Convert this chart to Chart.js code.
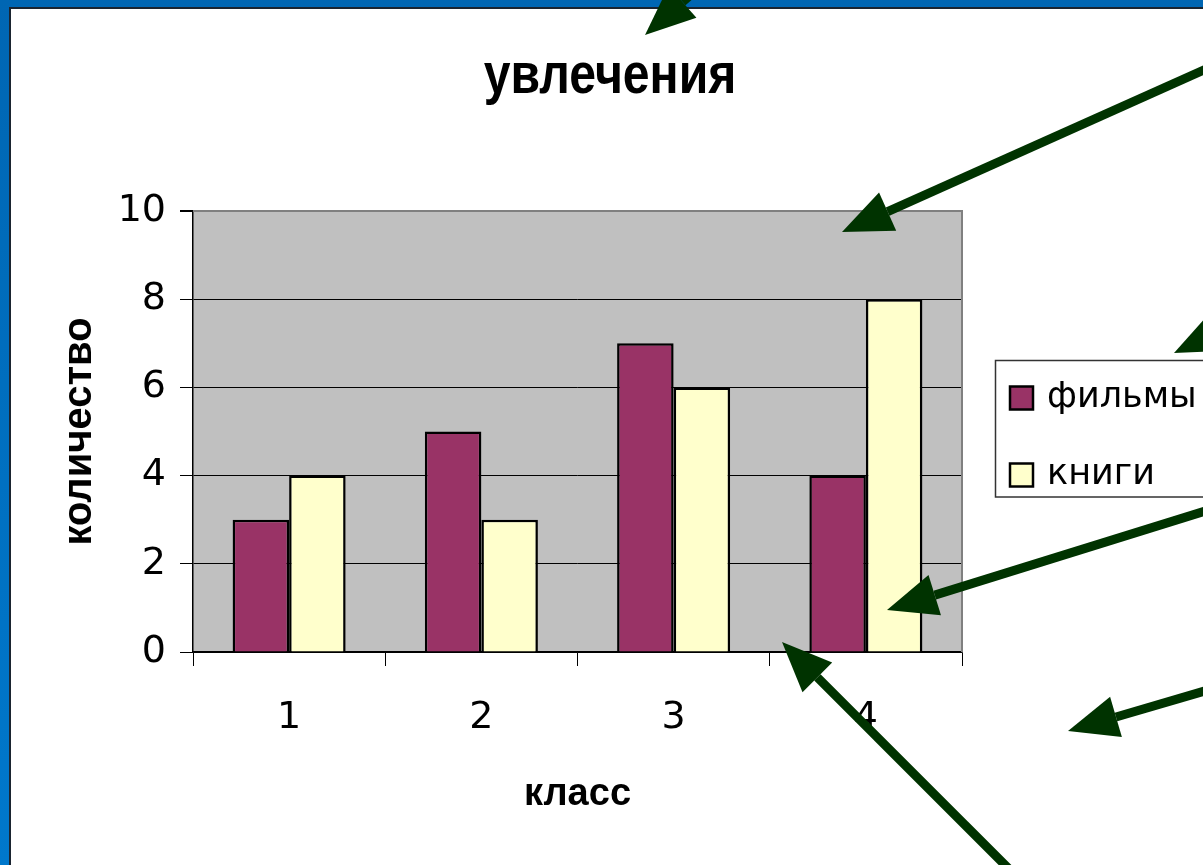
<!DOCTYPE html>
<html>
<head>
<meta charset="utf-8">
<script src="https://cdn.jsdelivr.net/npm/chart.js@4"></script>
<style>
  html, body { margin: 0; padding: 0; overflow: hidden; }
  body { width: 1203px; height: 865px; position: relative; background: linear-gradient(#0066b3, #0078cc); }
  #sheet { position: absolute; left: 9px; top: 7px; right: 0; bottom: 0; background: #fff;
           border-left: 2px solid #1a2430; border-top: 2px solid #1a2430; }
  #chart { position: absolute; left: 0; top: 0; }
</style>
</head>
<body>
<div id="sheet"></div>
<canvas id="chart" width="1203" height="865"></canvas>
<script>
// chart data
const classes = ['1', '2', '3', '4'];
const films = [3, 5, 7, 4];
const books = [4, 3, 6, 8];
const seriesNames = ['фильмы', 'книги'];
const chartTitle = 'увлечения';
const yMax = 10;
const yStep = 2;

// green pointer arrows drawn over the slide: [tailX, tailY, tipX, tipY]
const arrows = [
    [720, -31, 645, 35],
    [1215, 65, 842, 232],
    [1300, 293, 1174, 353],
    [1215, 508, 887, 610],
    [1215, 688, 1068, 731],
    [1010, 870, 782, 642]
];

const PLOT_LEFT = 193, PLOT_TOP = 211, PLOT_RIGHT = 962, PLOT_BOTTOM = 652;

const plotFrame = {
    id: 'plotFrame',
    beforeDraw(chart) {
        const { ctx, chartArea: a } = chart;
        ctx.save();
        ctx.fillStyle = '#c0c0c0';
        ctx.fillRect(a.left, a.top, a.right - a.left, a.bottom - a.top);
        ctx.restore();
    },
    afterDatasetsDraw(chart) {
        const { ctx, chartArea: a } = chart;
        ctx.save();
        ctx.strokeStyle = '#808080';
        ctx.lineWidth = 2;
        ctx.beginPath();
        ctx.moveTo(a.left, a.top);
        ctx.lineTo(a.right, a.top);
        ctx.lineTo(a.right, a.bottom);
        ctx.stroke();
        ctx.restore();
    }
};

// the slide title is a condensed heavy face, so squeeze a bold sans a little
const squeezedTitle = {
    id: 'squeezedTitle',
    afterDraw(chart) {
        const ctx = chart.ctx;
        ctx.save();
        ctx.translate(610, 93);
        ctx.scale(0.83, 1);
        ctx.fillStyle = '#000';
        ctx.font = 'bold 58px "Liberation Sans", Arial';
        ctx.textAlign = 'center';
        ctx.textBaseline = 'alphabetic';
        ctx.fillText(chartTitle, 0, 0);
        ctx.restore();
    }
};

const boxLegend = {
    id: 'boxLegend',
    afterDraw(chart) {
        const ctx = chart.ctx;
        ctx.save();
        ctx.fillStyle = '#fff';
        ctx.strokeStyle = '#333';
        ctx.lineWidth = 1.5;
        ctx.fillRect(995.5, 360.5, 260, 136.5);
        ctx.strokeRect(995.5, 360.5, 260, 136.5);
        const rows = [398, 475];
        chart.data.datasets.forEach((ds, i) => {
            const cy = rows[i];
            ctx.fillStyle = ds.backgroundColor;
            ctx.strokeStyle = '#000';
            ctx.lineWidth = 2.5;
            ctx.fillRect(1010, cy - 11.5, 23, 23);
            ctx.strokeRect(1010, cy - 11.5, 23, 23);
            ctx.fillStyle = '#000';
            ctx.font = '35px "DejaVu Sans"';
            ctx.textBaseline = 'middle';
            ctx.textAlign = 'left';
            ctx.fillText(ds.label, 1047, cy);
        });
        ctx.restore();
    }
};

const pointerArrows = {
    id: 'pointerArrows',
    afterDraw(chart) {
        const ctx = chart.ctx;
        const headLen = 50, headHalf = 21;
        ctx.save();
        ctx.fillStyle = '#003300';
        ctx.strokeStyle = '#003300';
        ctx.lineWidth = 9;
        ctx.lineCap = 'butt';
        arrows.forEach(([tx, ty, px, py]) => {
            const len = Math.hypot(tx - px, ty - py);
            const dx = (tx - px) / len, dy = (ty - py) / len;
            const bx = px + dx * headLen, by = py + dy * headLen;
            ctx.beginPath();
            ctx.moveTo(tx, ty);
            ctx.lineTo(bx, by);
            ctx.stroke();
            ctx.beginPath();
            ctx.moveTo(px, py);
            ctx.lineTo(bx - dy * headHalf, by + dx * headHalf);
            ctx.lineTo(bx + dy * headHalf, by - dx * headHalf);
            ctx.closePath();
            ctx.fill();
        });
        ctx.restore();
    }
};

const ctx = document.getElementById('chart').getContext('2d');
new Chart(ctx, {
    type: 'bar',
    data: {
        labels: classes,
        datasets: [
            { label: seriesNames[0], data: films, backgroundColor: '#993366', borderColor: '#000', borderWidth: 2.5 },
            { label: seriesNames[1], data: books, backgroundColor: '#ffffcc', borderColor: '#000', borderWidth: 2.5 }
        ]
    },
    options: {
        responsive: false,
        devicePixelRatio: 1,
        animation: false,
        layout: { padding: { left: 0, right: 1203 - PLOT_RIGHT, top: PLOT_TOP, bottom: 0 } },
        datasets: { bar: { categoryPercentage: 0.588, barPercentage: 1 } },
        plugins: {
            legend: { display: false },
            tooltip: { enabled: false },
            title: { display: false }
        },
        scales: {
            x: {
                grid: { drawOnChartArea: false, tickLength: 14, tickColor: '#000', offset: true },
                border: { color: '#000', width: 1.5 },
                ticks: { color: '#000', padding: 29, font: { family: '"DejaVu Sans"', size: 38 } },
                title: {
                    display: true, text: 'класс', color: '#000',
                    font: { family: '"Liberation Sans", Arial', size: 38, weight: 'bold' },
                    padding: { top: 0, bottom: 48 }
                },
                afterFit(scale) { scale.height = 865 - PLOT_BOTTOM; }
            },
            y: {
                min: 0,
                max: yMax,
                ticks: { stepSize: yStep, color: '#000', padding: 14, font: { family: '"DejaVu Sans"', size: 38 } },
                grid: {
                    color: (c) => c.tick && c.tick.value === yMax ? '#808080' : '#000',
                    lineWidth: (c) => c.tick && c.tick.value === yMax ? 2 : 1,
                    tickColor: '#000',
                    tickLength: 13
                },
                border: { color: '#000', width: 1.5 },
                title: {
                    display: true, text: 'количество', color: '#000',
                    font: { family: '"Liberation Sans", Arial', size: 40, weight: 'bold' },
                    padding: { top: 56, bottom: 0 }
                },
                afterFit(scale) { scale.width = PLOT_LEFT; }
            }
        }
    },
    plugins: [plotFrame, squeezedTitle, boxLegend, pointerArrows]
});
</script>
</body>
</html>
